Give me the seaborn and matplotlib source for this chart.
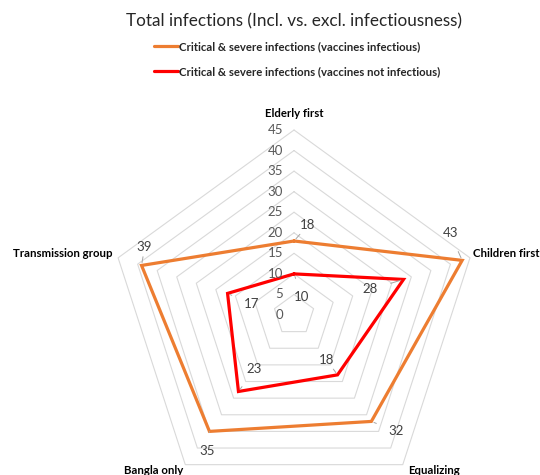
import numpy as np
import pandas as pd
import matplotlib
matplotlib.use("Agg")
import matplotlib.pyplot as plt
from matplotlib.lines import Line2D
import seaborn as sns

categories = ["Elderly first", "Children first", "Equalizing", "Bangla only", "Transmission group"]
series_names = ["Critical & severe infections (vaccines infectious)",
                "Critical & severe infections (vaccines not infectious)"]
vaccines_infectious = [18, 43, 32, 35, 39]
vaccines_not_infectious = [10, 28, 18, 23, 17]
radial_ticks = [0, 5, 10, 15, 20, 25, 30, 35, 40, 45]
series_colors = ["#ED7D31", "#FF0000"]

sns.set_theme(style="white")
plt.rcParams["font.family"] = ["Lato", "DejaVu Sans"]

n = len(categories)
angles = np.arange(n) * 2 * np.pi / n
angles_closed = np.append(angles, angles[0])

rows = []
for name, vals in zip(series_names, [vaccines_infectious, vaccines_not_infectious]):
    closed = list(vals) + [vals[0]]
    for i, (t, v) in enumerate(zip(angles_closed, closed)):
        rows.append({"series": name, "order": i, "theta": t, "value": v})
df = pd.DataFrame(rows)

fig = plt.figure(figsize=(5.4, 4.75), dpi=100)
ax = fig.add_axes([0.2019, -0.0526, 0.6852, 0.7789], projection="polar")
ax.set_theta_offset(np.pi / 2)
ax.set_theta_direction(-1)
ax.set_ylim(0, 45)
ax.set_xticks([])
ax.set_yticks([])
ax.grid(False)
ax.spines["polar"].set_visible(False)
ax.patch.set_visible(False)

# polygon gridlines
for r in radial_ticks[1:]:
    ax.plot(angles_closed, [r] * len(angles_closed), color="#D9D9D9", lw=0.8,
            clip_on=False, zorder=1)

sns.lineplot(data=df, x="theta", y="value", hue="series", palette=series_colors,
             hue_order=series_names, sort=False, estimator=None, units="series",
             ax=ax, linewidth=2.3, legend=False, solid_joinstyle="miter", zorder=3)
for line in ax.lines[-2:]:
    line.set_clip_on(False)
ax.set_xlabel("")
ax.set_ylabel("")

# radial tick labels along the top spoke
for r in radial_ticks:
    ax.annotate(str(r), xy=(0, r), xytext=(-11, 0), textcoords="offset pixels",
                ha="right", va="center", fontsize=9.5, color="#595959")

# category labels
cat_offsets = [(0, 17, "center"), (3, 4, "left"), (5, -6, "left"),
               (-2, -6, "right"), (-6, 4, "right")]
for t, name, (dx, dy, ha) in zip(angles, categories, cat_offsets):
    ax.annotate(name, xy=(t, 45), xytext=(dx, dy), textcoords="offset pixels",
                ha=ha, va="center", fontsize=8.2, fontweight="bold", color="#000000",
                annotation_clip=False)

# data labels with leader lines
label_offsets = [
    [(14, 16), (-12, 27), (25, -10), (-2, -20), (3, 18)],
    [(8, -23), (-33, -10), (-11, 15), (16, 22), (24, -11)],
]
for vals, offs in zip([vaccines_infectious, vaccines_not_infectious], label_offsets):
    for t, v, (dx, dy) in zip(angles, vals, offs):
        ax.annotate(str(v), xy=(t, v), xytext=(dx, dy), textcoords="offset pixels",
                    ha="center", va="center", fontsize=9.5, color="#404040",
                    annotation_clip=False,
                    arrowprops=dict(arrowstyle="-", color="#A6A6A6", lw=0.7,
                                    shrinkA=7, shrinkB=2))

fig.text(294 / 540, 1 - 21 / 475, "Total infections (Incl. vs. excl. infectiousness)",
         ha="center", va="center", fontsize=12.3, color="#262626")

handles = [Line2D([0], [0], color=c, lw=2.3) for c in series_colors]
fig.legend(handles, series_names, loc="upper left",
           bbox_to_anchor=(154 / 540, 1 - 41 / 475), frameon=False,
           prop={"weight": "bold", "size": 8.2}, handlelength=2.1, handletextpad=0.12,
           labelspacing=1.25, borderaxespad=0, borderpad=0)

fig.savefig("out.png", dpi=100)
